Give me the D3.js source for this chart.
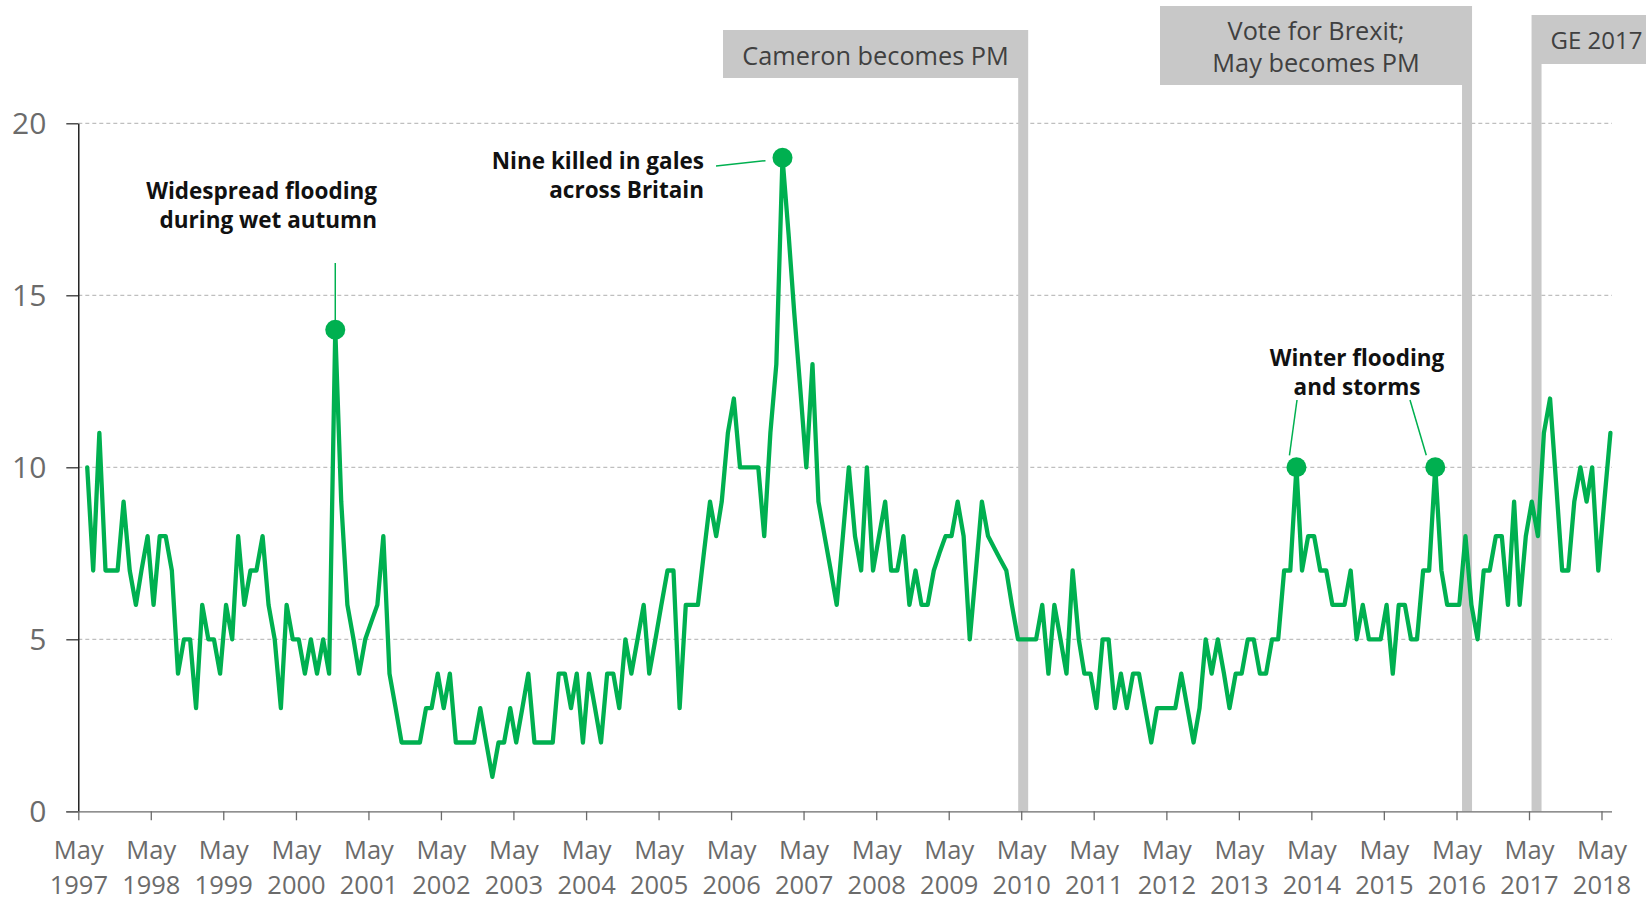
<!DOCTYPE html>
<html><head><meta charset="utf-8">
<script src="https://cdn.jsdelivr.net/npm/d3@7"></script>
<style>
body{margin:0;background:#fff;}
svg{display:block;font-family:"Open Sans",sans-serif;}
</style>
</head><body>
<svg id="chart" width="1646" height="900"></svg>
<script>
// ---- DATA ----
const firstMonth = [1997, 6]; // June 1997, monthly to June 2018
const values = [
 10,7,11,7,7,7,9,7,6,7,8,6,8,8,7,4,5,5,3,6,5,5,4,6,5,8,6,7,7,8,6,5,3,6,5,5,4,5,4,5,
 4,14,9,6,5,4,5,5.5,6,8,4,3,2,2,2,2,3,3,4,3,4,2,2,2,2,3,2,1,2,2,3,2,3,4,2,2,2,2,4,4,
 3,4,2,4,3,2,4,4,3,5,4,5,6,4,5,6,7,7,3,6,6,6,7.5,9,8,9,11,12,10,10,10,10,8,11,13,19,16.75,14.5,
 12.25,10,13,9,8,7,6,8,10,8,7,10,7,8,9,7,7,8,6,7,6,6,7,7.5,8,8,9,8,5,7,9,8,7.67,7.33,7,6,
 5,5,5,5,6,4,6,5,4,7,5,4,4,3,5,5,3,4,3,4,4,3,2,3,3,3,3,4,3,2,3,5,4,5,4,3,4,4,5,5,
 4,4,5,5,7,7,10,7,8,8,7,7,6,6,6,7,5,6,5,5,5,6,4,6,6,5,5,7,7,10,7,6,6,6,8,6,5,7,7,8,
 8,6,9,6,8,9,8,11,12,9.5,7,7,9,10,9,10,7,9,11
];
const yTickValues = [0, 5, 10, 15, 20];
const xTickYears = d3.range(1997, 2019);
const xTickMonthLabel = "May";
const events = [
  {date: "2010-05-11", lines: ["Cameron becomes PM"]},
  {date: "2016-06-23", lines: ["Vote for Brexit;", "May becomes PM"]},
  {date: "2017-06-08", lines: ["GE 2017"]}
];
const highlightMonths = ["2000-11", "2007-01", "2014-02", "2016-01"];
const annotationTexts = [
  ["Widespread flooding", "during wet autumn"],
  ["Nine killed in gales", "across Britain"],
  ["Winter flooding", "and storms"]
];

// ---- SETUP ----
const svg = d3.select("#chart");
const green = "#00b050";
const grey = "#c8c8c8";

const data = values.map((v, i) => ({date: new Date(firstMonth[0], firstMonth[1] - 1 + i, 15), value: v}));

const x = d3.scaleTime()
  .domain([new Date(1997, 4, 1), new Date(2018, 6, 1)])
  .range([78.3, 1613.6]);
const y = d3.scaleLinear().domain([0, 20]).range([811.3, 123.3]);

// gridlines
svg.append("g").selectAll("line").data(yTickValues.filter(d => d > 0)).join("line")
  .attr("x1", x.range()[0]).attr("x2", 1612)
  .attr("y1", d => y(d)).attr("y2", d => y(d))
  .attr("stroke", "#b0b0b0").attr("stroke-width", 1).attr("stroke-dasharray", "4,3");

// event bars + boxes
const parse = d3.timeParse("%Y-%m-%d");
const boxLayout = [
  {anchor: "right", x0: 723, y0: 30, y1: 78, textY: [65]},
  {anchor: "right", x0: 1160, y0: 6, y1: 85, textY: [39.5, 72]},
  {anchor: "left", x1: 1660, y0: 15, y1: 64, textY: [48.5]}
];
const eg = svg.append("g");
events.forEach((e, i) => {
  const cx = x(parse(e.date));
  const L = boxLayout[i];
  eg.append("rect").attr("x", cx - 5).attr("width", 10)
    .attr("y", L.y1).attr("height", y(0) - L.y1).attr("fill", grey);
  let bx0, bx1;
  if (L.anchor === "right") { bx0 = L.x0; bx1 = cx + 5; } else { bx0 = cx - 5; bx1 = L.x1; }
  eg.append("rect").attr("x", bx0).attr("y", L.y0).attr("width", bx1 - bx0).attr("height", L.y1 - L.y0).attr("fill", grey);
  e.lines.forEach((t, j) => {
    const txt = eg.append("text").attr("y", L.textY[j]).attr("font-size", L.anchor === "left" ? 24 : 25.3).attr("fill", "#404040").text(t);
    if (L.anchor === "right") txt.attr("x", (bx0 + bx1) / 2).attr("text-anchor", "middle");
    else txt.attr("x", bx0 + 19).attr("text-anchor", "start");
  });
});

// axes
const yAxis = svg.append("g").attr("transform", `translate(${x.range()[0]},0)`)
  .call(d3.axisLeft(y).tickValues(yTickValues).tickSize(12).tickSizeOuter(0).tickPadding(20).tickFormat(d3.format("d")));
yAxis.select(".domain").attr("stroke", "#000").attr("stroke-width", 1.3);
yAxis.selectAll(".tick line").attr("stroke", "#333").attr("stroke-width", 1.3);
yAxis.selectAll(".tick text").attr("font-size", 30).attr("fill", "#6b6b6b")
  .attr("font-family", "Open Sans, sans-serif").attr("dy", "0.35em");

const xTicks = xTickYears.map(yr => new Date(yr, 4, 1));
const xAxis = svg.append("g").attr("transform", `translate(0,${y(0)})`)
  .call(d3.axisBottom(x).tickValues(xTicks).tickSize(9).tickSizeOuter(0).tickFormat(() => ""));
xAxis.select(".domain").attr("stroke", "#6b6b6b").attr("stroke-width", 1.3)
  .attr("d", `M${x.range()[0] - 12},0.5H1612`);
xAxis.selectAll(".tick line").attr("stroke", "#6b6b6b").attr("stroke-width", 1.3);
xAxis.selectAll(".tick text").remove();
xAxis.selectAll(".tick").each(function(d) {
  const t = d3.select(this).append("text").attr("text-anchor", "middle")
    .attr("font-size", 25.5).attr("fill", "#6b6b6b").attr("font-family", "Open Sans, sans-serif");
  t.append("tspan").attr("x", 0).attr("y", 48).text(xTickMonthLabel);
  t.append("tspan").attr("x", 0).attr("y", 83).text(d.getFullYear());
});

// line
const line = d3.line().x(d => x(d.date)).y(d => y(d.value));
svg.append("path").datum(data).attr("d", line)
  .attr("fill", "none").attr("stroke", green).attr("stroke-width", 4.3)
  .attr("stroke-linejoin", "round").attr("stroke-linecap", "round");

// highlight dots
const fmtM = d3.timeFormat("%Y-%m");
const hl = data.filter(d => highlightMonths.includes(fmtM(d.date)));
svg.append("g").selectAll("circle").data(hl).join("circle")
  .attr("cx", d => x(d.date)).attr("cy", d => y(d.value)).attr("r", 10).attr("fill", green);

// annotations
const ag = svg.append("g").attr("font-weight", 700).attr("font-size", 22.5).attr("fill", "#111");
function label(lines, xx, yy, anchor) {
  const t = ag.append("text").attr("text-anchor", anchor);
  lines.forEach((s, j) => t.append("tspan").attr("x", xx).attr("y", yy + j * 28.5).text(s));
}
const leader = (x1, y1, x2, y2) => svg.append("line").attr("x1", x1).attr("y1", y1).attr("x2", x2).attr("y2", y2)
  .attr("stroke", green).attr("stroke-width", 1.5);

const p0 = hl[0], p1 = hl[1], p2 = hl[2], p3 = hl[3];
label(annotationTexts[0], 377, 199, "end");
leader(x(p0.date), 263, x(p0.date), y(p0.value));
label(annotationTexts[1], 704, 169, "end");
leader(716, 166, x(p1.date) - 17, y(p1.value) + 3);
label(annotationTexts[2], 1357, 366, "middle");
leader(1297, 400, x(p2.date) - 7, y(p2.value) - 12);
leader(1410, 400, x(p3.date) - 9, y(p3.value) - 12);
</script>
</body></html>
